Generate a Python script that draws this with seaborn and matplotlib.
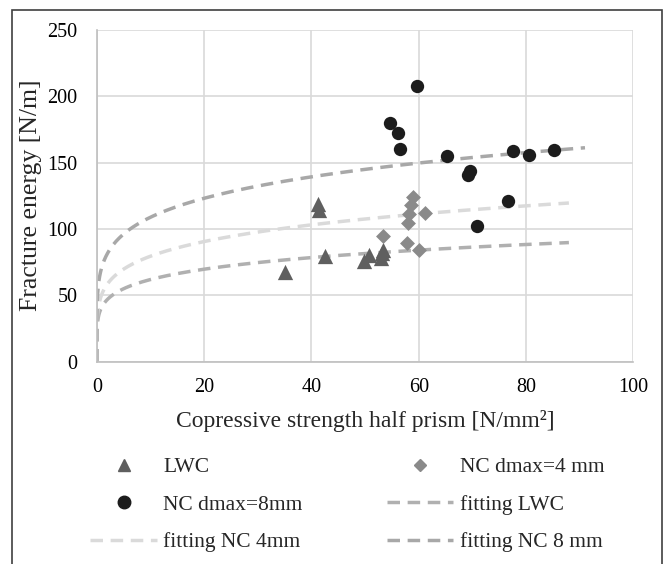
import numpy as np
import pandas as pd
import matplotlib
matplotlib.use("Agg")
import matplotlib.pyplot as plt
import seaborn as sns
from matplotlib.lines import Line2D
from matplotlib.patches import Rectangle

# ---------------- data ----------------
lwc_x = [35.0, 41.3, 41.4, 42.6, 49.8, 50.8, 52.9, 53.2, 53.4]
lwc_y = [67.5, 119.0, 114.0, 79.5, 76.0, 80.5, 78.0, 81.5, 84.0]

nc4_x = [58.9, 58.5, 58.2, 58.0, 61.1, 53.3, 57.8, 60.0]
nc4_y = [124.0, 118.0, 111.0, 104.5, 112.0, 95.0, 89.0, 84.0]

nc8_x = [59.75, 54.6, 56.2, 56.5, 65.2, 77.5, 80.6, 85.3, 69.6, 69.1, 76.6, 70.8]
nc8_y = [207.5, 180.0, 172.5, 160.0, 155.0, 159.0, 155.5, 159.5, 143.5, 140.5, 121.0, 102.5]

# power trendlines y = a * x^b (coefficients)
fit_names = ["fitting LWC", "fitting NC 4mm", "fitting NC 8 mm"]
fit_a = [41.7, 51.5, 72.2]
fit_b = [0.171, 0.188, 0.178]
fit_xmax = [88.0, 88.0, 91.0]

x_ticks = [0, 20, 40, 60, 80, 100]
y_ticks = [0, 50, 100, 150, 200, 250]

# ---------------- style ----------------
sns.set_theme(style="white")
plt.rcParams["font.family"] = ["Liberation Serif", "DejaVu Serif"]
FS = 14.5

fig = plt.figure(figsize=(6.68, 5.64), dpi=100)
ax = fig.add_axes([0.145, 0.359, 0.803, 0.588])

grid_c = "#d9d9d9"
ax.set_xlim(0, 100)
ax.set_ylim(0, 250)
ax.set_xticks(x_ticks)
ax.set_yticks(y_ticks)
ax.grid(True, color=grid_c, linewidth=1.2)
ax.set_axisbelow(True)
for s in ["top", "right"]:
    ax.spines[s].set_visible(False)
for s in ["left", "bottom"]:
    ax.spines[s].set_color("#bfbfbf")
    ax.spines[s].set_linewidth(1.2)
ax.tick_params(axis="both", length=0, labelsize=FS, colors="black")
ax.tick_params(axis="y", pad=14)
ax.tick_params(axis="x", pad=12)

# fits
fit_colors = ["#b0b0b0", "#dadada", "#a8a8a8"]
fit_handles = []
for name, a, b, xm, c in zip(fit_names, fit_a, fit_b, fit_xmax, fit_colors):
    xs = np.concatenate([[0.0], np.geomspace(1e-6, xm, 500)])
    ys = a * xs ** b
    ln, = ax.plot(xs, ys, color=c, linewidth=2.5, linestyle=(0, (3.6, 2.2)),
                  zorder=2, dash_capstyle="butt")
    fit_handles.append(ln)

# scatter series
df_lwc = pd.DataFrame({"x": lwc_x, "y": lwc_y})
df_nc4 = pd.DataFrame({"x": nc4_x, "y": nc4_y})
df_nc8 = pd.DataFrame({"x": nc8_x, "y": nc8_y})

sns.scatterplot(data=df_lwc, x="x", y="y", ax=ax, marker="^", s=11.0**2,
                color="#5f5f5f", edgecolor="#5f5f5f", linewidth=0, zorder=3, legend=False)
sns.scatterplot(data=df_nc4, x="x", y="y", ax=ax, marker="D", s=7.6**2,
                color="#8a8a8a", edgecolor="#8a8a8a", linewidth=0, zorder=3, legend=False)
sns.scatterplot(data=df_nc8, x="x", y="y", ax=ax, marker="o", s=9.6**2,
                color="#1c1c1c", edgecolor="#1c1c1c", linewidth=0, zorder=4, legend=False)
if ax.get_legend() is not None:
    ax.get_legend().remove()

ax.set_xlabel("Copressive strength half prism [N/mm²]", fontsize=17, labelpad=9)
ax.set_ylabel("Fracture energy [N/m]", fontsize=18.5, labelpad=4)

# legend (2 columns, row-major order)
h_lwc = Line2D([], [], marker="^", linestyle="none", color="#5f5f5f", markersize=8)
h_nc4 = Line2D([], [], marker="D", linestyle="none", color="#8a8a8a", markersize=6)
h_nc8 = Line2D([], [], marker="o", linestyle="none", color="#1c1c1c", markersize=9)
handles = [h_lwc, h_nc8, fit_handles[1], h_nc4, fit_handles[0], fit_handles[2]]
labels = ["LWC", "NC dmax=8mm", "fitting NC 4mm", "NC dmax=4 mm", "fitting LWC", "fitting NC 8 mm"]
fig.legend(handles, labels, ncol=2, loc="upper left", bbox_to_anchor=(0.135, 0.189),
           frameon=False, fontsize=FS + 1, handlelength=3.1, handletextpad=0.3,
           columnspacing=3.9, labelspacing=0.8, borderaxespad=0, borderpad=0)

# outer frame (chart area border)
fig.patches.append(Rectangle((12 / 668, -0.05), (662 - 12) / 668, 1 - 10 / 564 + 0.05,
                             transform=fig.transFigure, fill=False,
                             edgecolor="#404040", linewidth=1.2))

fig.savefig("out.png", dpi=100)
